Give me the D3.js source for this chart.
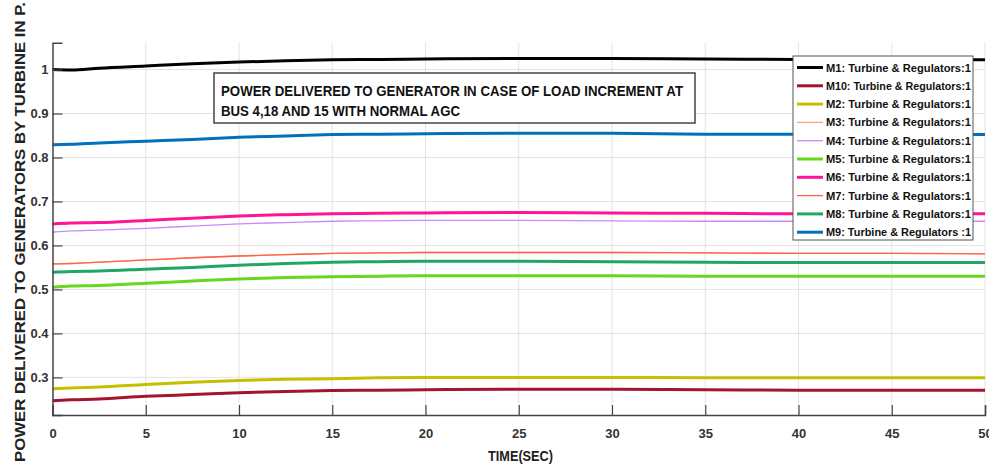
<!DOCTYPE html>
<html>
<head>
<meta charset="utf-8">
<script src="https://cdn.jsdelivr.net/npm/d3@7"></script>
<style>
  html, body { margin: 0; padding: 0; background: #fff; }
  svg { display: block; font-family: Arial, "Liberation Sans", sans-serif; }
</style>
</head>
<body>
<svg id="chart"></svg>
<script>
// Time axis (seconds) shared by all machines
const time = [0, 1, 2.5, 5, 7.5, 10, 12.5, 15, 17.5, 20, 25, 30, 35, 40, 45, 50];

// Turbine power per machine
const m1  = [1.000, 0.999, 1.003, 1.008, 1.013, 1.017, 1.020, 1.022, 1.023, 1.024, 1.025, 1.025, 1.024, 1.023, 1.023, 1.022];
const m10 = [0.247, 0.249, 0.251, 0.257, 0.261, 0.265, 0.268, 0.270, 0.271, 0.272, 0.273, 0.273, 0.272, 0.271, 0.271, 0.271];
const m2  = [0.274, 0.276, 0.278, 0.284, 0.289, 0.293, 0.296, 0.297, 0.299, 0.300, 0.300, 0.300, 0.299, 0.299, 0.299, 0.299];
const m3  = [0.558, 0.559, 0.562, 0.567, 0.572, 0.576, 0.579, 0.582, 0.583, 0.584, 0.584, 0.584, 0.583, 0.582, 0.582, 0.581];
const m4  = [0.630, 0.633, 0.635, 0.639, 0.644, 0.649, 0.652, 0.655, 0.656, 0.657, 0.657, 0.656, 0.655, 0.655, 0.655, 0.655];
const m5  = [0.505, 0.508, 0.509, 0.514, 0.519, 0.524, 0.527, 0.529, 0.530, 0.531, 0.531, 0.531, 0.530, 0.530, 0.530, 0.530];
const m6  = [0.649, 0.651, 0.652, 0.657, 0.662, 0.667, 0.670, 0.672, 0.673, 0.674, 0.675, 0.674, 0.673, 0.672, 0.672, 0.672];
const m7  = [0.558, 0.559, 0.562, 0.567, 0.572, 0.576, 0.579, 0.582, 0.583, 0.584, 0.584, 0.584, 0.583, 0.582, 0.582, 0.581];
const m8  = [0.539, 0.541, 0.542, 0.546, 0.550, 0.555, 0.559, 0.562, 0.563, 0.564, 0.564, 0.563, 0.562, 0.561, 0.561, 0.561];
const m9  = [0.829, 0.830, 0.833, 0.837, 0.841, 0.846, 0.849, 0.852, 0.853, 0.854, 0.855, 0.855, 0.853, 0.853, 0.852, 0.852];

const seriesNames = [
  "M1: Turbine & Regulators:1", "M10: Turbine & Regulators:1", "M2: Turbine & Regulators:1",
  "M3: Turbine & Regulators:1", "M4: Turbine & Regulators:1", "M5: Turbine & Regulators:1",
  "M6: Turbine & Regulators:1", "M7: Turbine & Regulators:1", "M8: Turbine & Regulators:1",
  "M9: Turbine & Regulators :1"
];
const seriesValues = [m1, m10, m2, m3, m4, m5, m6, m7, m8, m9];

const xTicks = [0, 5, 10, 15, 20, 25, 30, 35, 40, 45, 50];
const yTicks = [0.3, 0.4, 0.5, 0.6, 0.7, 0.8, 0.9, 1];

const titleLines = [
  "POWER DELIVERED TO GENERATOR IN CASE OF LOAD INCREMENT AT",
  "BUS 4,18 AND 15 WITH NORMAL AGC"
];

// styles
const colors = ["#000000", "#a2142f", "#c4c000", "#ffa07a", "#cc88ff", "#66d61e", "#ff1493", "#ff6347", "#1fa864", "#0072bd"];
const widths = [3, 3, 3, 1.3, 1.3, 3, 3, 1.3, 3, 3];

const W = 989, H = 465;
const svg = d3.select("#chart").attr("width", W).attr("height", H);

const x = d3.scaleLinear().domain([0, 50]).range([52.5, 985]);
const y = d3.scaleLinear().domain([0.2145, 1.061]).range([415, 42.7]);

// grid
const grid = svg.append("g").attr("stroke", "#e3e3e3").attr("stroke-width", 1);
grid.selectAll(".gx").data(xTicks.slice(1)).enter().append("line")
  .attr("x1", d => x(d)).attr("x2", d => x(d))
  .attr("y1", y.range()[1]).attr("y2", y.range()[0]);
grid.selectAll(".gy").data(yTicks).enter().append("line")
  .attr("x1", x.range()[0]).attr("x2", x.range()[1])
  .attr("y1", d => y(d)).attr("y2", d => y(d));

// lines
const line = d3.line()
  .x((d, i) => x(time[i]))
  .y(d => y(d))
  .curve(d3.curveMonotoneX);

svg.append("g").selectAll("path")
  .data(seriesValues)
  .enter()
  .append("path")
  .attr("fill", "none")
  .attr("stroke", (d, i) => colors[i])
  .attr("stroke-width", (d, i) => widths[i])
  .attr("d", d => line(d));

// axes (ticks point inward like MATLAB)
const xAxis = svg.append("g")
  .attr("transform", `translate(0,${y.range()[0]})`)
  .call(d3.axisBottom(x).tickValues(xTicks).tickSize(-10).tickPadding(14).tickFormat(d3.format("d")));
const yAxis = svg.append("g")
  .attr("transform", `translate(${x.range()[0]},0)`)
  .call(d3.axisLeft(y).tickValues(yTicks).tickSize(-10).tickPadding(4).tickFormat(d => d === 1 ? "1" : d3.format(".1f")(d)));

[xAxis, yAxis].forEach(a => {
  a.select(".domain").attr("stroke", "#444").attr("stroke-width", 1.5);
  a.selectAll(".tick line").attr("stroke", "#444").attr("stroke-width", 1.2);
  a.selectAll(".tick text").attr("fill", "#333").style("font-size", "13px").style("font-weight", "bold");
});

// squeeze helper: condense a text to a given width
function fitWidth(sel, w) {
  sel.attr("textLength", w).attr("lengthAdjust", "spacingAndGlyphs");
}

// axis labels
const xLabel = svg.append("text")
  .attr("x", 488).attr("y", 461)
  .attr("fill", "#222")
  .style("font-size", "15px").style("font-weight", "bold")
  .text("TIME(SEC)");
fitWidth(xLabel, 65);

const yLabel = svg.append("text")
  .attr("transform", "translate(25,462) rotate(-90)")
  .attr("fill", "#222")
  .style("font-size", "14px").style("font-weight", "bold")
  .text("POWER DELIVERED TO GENERATORS BY TURBINE IN P.");
fitWidth(yLabel, 460);

// title box
const tb = svg.append("g");
tb.append("rect")
  .attr("x", 214).attr("y", 73).attr("width", 481).attr("height", 50)
  .attr("fill", "#fff").attr("stroke", "#444").attr("stroke-width", 1.5);
const titleWidths = [462, 239];
titleLines.forEach((t, i) => {
  const tt = tb.append("text")
    .attr("x", 221).attr("y", 96 + i * 19.5)
    .attr("fill", "#111")
    .style("font-size", "14px").style("font-weight", "bold")
    .text(t);
  fitWidth(tt, titleWidths[i]);
});

// legend
const lg = svg.append("g");
lg.append("rect")
  .attr("x", 793).attr("y", 56).attr("width", 180).attr("height", 184)
  .attr("fill", "#fff").attr("stroke", "#555").attr("stroke-width", 1);
const rowY = i => 67.5 + i * 18.3;
lg.selectAll(".sw").data(seriesNames).enter().append("line")
  .attr("x1", 797).attr("x2", 823)
  .attr("y1", (d, i) => rowY(i)).attr("y2", (d, i) => rowY(i))
  .attr("stroke", (d, i) => colors[i])
  .attr("stroke-width", (d, i) => widths[i]);
lg.selectAll(".lt").data(seriesNames).enter().append("text")
  .attr("x", 826).attr("y", (d, i) => rowY(i) + 4)
  .attr("fill", "#111")
  .style("font-size", "11.5px").style("font-weight", "bold")
  .text(d => d)
  .each(function () {
    // keep each entry inside the legend box
    const w = this.getComputedTextLength();
    if (w > 145) fitWidth(d3.select(this), 145);
  });
</script>
</body>
</html>
